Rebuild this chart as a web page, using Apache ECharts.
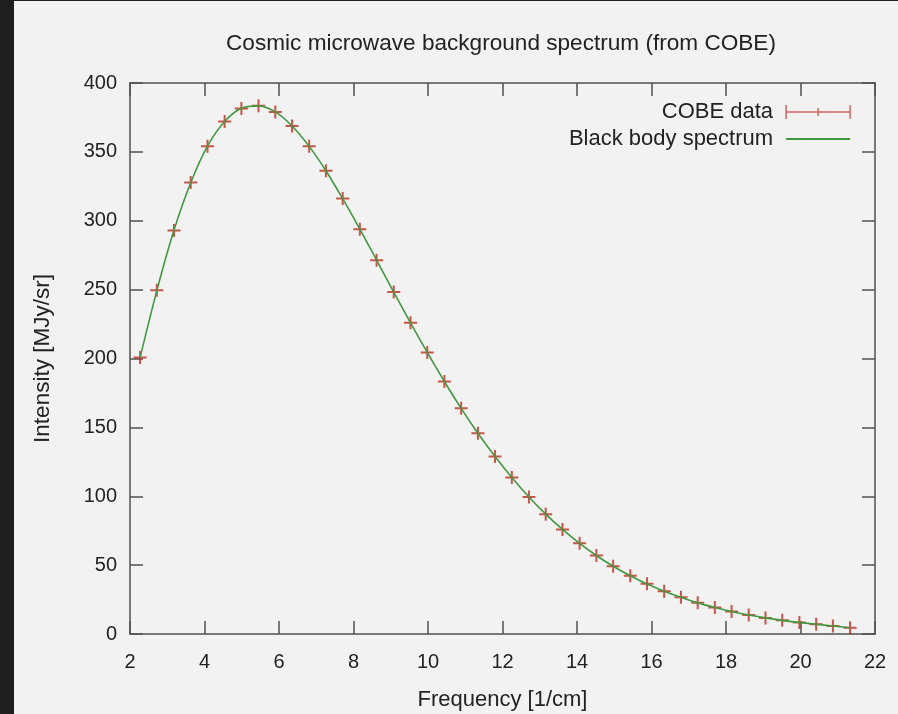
<!DOCTYPE html>
<html>
<head>
<meta charset="utf-8">
<script src="https://cdn.jsdelivr.net/npm/echarts@6/dist/echarts.min.js"></script>
<style>
html,body{margin:0;padding:0;background:#1e1e1e;width:898px;height:714px;overflow:hidden;}
#chart{position:absolute;left:14px;top:1px;width:884px;height:713px;}
</style>
</head>
<body>
<div id="chart"></div>
<script>
// Frequencies of the COBE FIRAS measurements [1/cm]
const frequency = [2.27, 2.72, 3.18, 3.63, 4.08, 4.54, 4.99, 5.45, 5.90, 6.35, 6.81, 7.26, 7.71, 8.17, 8.62, 9.08, 9.53, 9.98, 10.44, 10.89, 11.34, 11.80, 12.25, 12.71, 13.16, 13.61, 14.07, 14.52, 14.97, 15.43, 15.88, 16.34, 16.79, 17.24, 17.70, 18.15, 18.61, 19.06, 19.51, 19.97, 20.42, 20.87, 21.33];
// Measured intensity [MJy/sr]
const cobeData = [200.7, 249.5, 293.0, 327.8, 354.1, 372.1, 381.5, 383.5, 378.9, 368.8, 354.1, 336.3, 316.1, 293.9, 271.4, 248.2, 225.9, 204.3, 183.3, 163.8, 145.8, 128.8, 113.6, 99.5, 87.0, 75.9, 65.8, 57.0, 49.2, 42.3, 36.4, 31.1, 26.6, 22.6, 19.3, 16.4, 13.8, 11.7, 9.9, 8.4, 7.1, 5.8, 4.5];
// Black body curve values [MJy/sr]
const blackBody = [200.6, 249.3, 293.1, 327.6, 354.2, 372.0, 381.6, 383.4, 379.0, 368.8, 354.0, 336.3, 316.0, 294.0, 271.4, 248.2, 225.9, 204.4, 183.3, 163.8, 145.7, 128.8, 113.6, 99.5, 87.0, 75.9, 65.8, 57.0, 49.2, 42.3, 36.3, 31.1, 26.6, 22.6, 19.3, 16.4, 13.8, 11.7, 9.9, 8.4, 7.1, 5.8, 4.5];

const xTicks = {min: 2, max: 22, interval: 2};
const yTicks = {min: 0, max: 400, interval: 50};

const titleText = 'Cosmic microwave background spectrum (from COBE)';
const xName = 'Frequency [1/cm]';
const yName = 'Intensity [MJy/sr]';
const seriesNames = ['COBE data', 'Black body spectrum'];

const FONT = '"Liberation Sans", Arial, sans-serif';
const AXIS_COLOR = '#505050';
const TEXT_COLOR = '#222222';
const RED = '#c02a1c';
const GREEN = '#3f9a3f';

const chart = echarts.init(document.getElementById('chart'), null, {renderer: 'canvas'});

const axisCommon = {
  type: 'value',
  axisLine: {show: true, onZero: false, lineStyle: {color: AXIS_COLOR, width: 1.5}},
  axisTick: {show: true, inside: true, length: 13, lineStyle: {color: AXIS_COLOR, width: 1.5}},
  splitLine: {show: false},
};

const option = {
  backgroundColor: '#f2f2f2',
  animation: false,
  title: {
    text: titleText,
    left: 487,
    top: 31,
    padding: 0,
    textAlign: 'center',
    textStyle: {fontFamily: FONT, fontSize: 22.6, fontWeight: 'normal', color: TEXT_COLOR}
  },
  legend: {
    orient: 'vertical',
    right: 42,
    top: 95,
    align: 'right',
    itemWidth: 64,
    itemHeight: 14,
    itemGap: 5,
    selectedMode: false,
    textStyle: {fontFamily: FONT, fontSize: 22, color: TEXT_COLOR, padding: [0, 8, 0, 0]},
    data: [
      {name: seriesNames[0], icon: 'path://M0,0 L0,14 M0,7 L64,7 M64,0 L64,14 M32,3 L32,11 M28,7 L36,7',
       itemStyle: {color: 'rgba(0,0,0,0)', borderColor: '#cc4040', borderWidth: 1.5}},
      {name: seriesNames[1], icon: 'path://M0,0 M0,7 L64,7 M64,14',
       itemStyle: {color: 'rgba(0,0,0,0)', borderColor: GREEN, borderWidth: 1.8}}
    ]
  },
  grid: {left: 116, right: 23, top: 82, bottom: 80, containLabel: false, outerBoundsMode: 'none'},
  xAxis: [
    Object.assign({}, axisCommon, xTicks, {
      position: 'bottom',
      name: xName,
      nameLocation: 'middle',
      nameGap: 55,
      nameTextStyle: {fontFamily: FONT, fontSize: 22, color: TEXT_COLOR},
      axisLabel: {margin: 18, fontFamily: FONT, fontSize: 20, color: TEXT_COLOR}
    }),
    Object.assign({}, axisCommon, xTicks, {
      position: 'top',
      axisLabel: {show: false}
    })
  ],
  yAxis: [
    Object.assign({}, axisCommon, yTicks, {
      position: 'left',
      name: yName,
      nameLocation: 'middle',
      nameGap: 76,
      nameTextStyle: {fontFamily: FONT, fontSize: 22.5, color: TEXT_COLOR},
      axisLabel: {margin: 13, fontFamily: FONT, fontSize: 20, color: TEXT_COLOR}
    }),
    Object.assign({}, axisCommon, yTicks, {
      position: 'right',
      axisLabel: {show: false}
    })
  ],
  series: [
    {
      name: seriesNames[0],
      type: 'scatter',
      xAxisIndex: 0,
      yAxisIndex: 0,
      symbol: 'path://M0,6 L12,6 M6,0 L6,12',
      symbolSize: 13,
      itemStyle: {color: 'rgba(0,0,0,0)', borderColor: RED, borderWidth: 2},
      data: frequency.map((f, i) => [f, cobeData[i]]),
      z: 2
    },
    {
      name: seriesNames[1],
      type: 'line',
      xAxisIndex: 0,
      yAxisIndex: 0,
      smooth: 0.3,
      symbol: 'none',
      lineStyle: {color: GREEN, width: 1.6},
      itemStyle: {color: GREEN},
      data: frequency.map((f, i) => [f, blackBody[i]]),
      z: 3
    }
  ]
};
chart.setOption(option);
</script>
</body>
</html>
